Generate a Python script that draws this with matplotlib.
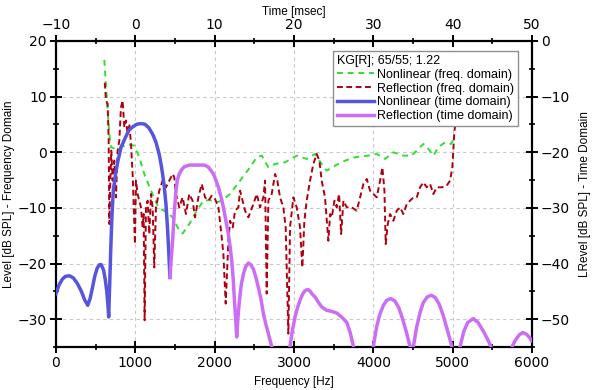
import numpy as np
import matplotlib
matplotlib.use("Agg")
import matplotlib.pyplot as plt
from matplotlib.ticker import MultipleLocator
from matplotlib.lines import Line2D

# frequency domain (Hz, dB SPL)
nl_freq = [609, 651, 672, 693, 756, 819, 903, 987, 1050, 1113, 1197, 1281, 1323, 1400, 1470,
           1554, 1596, 1680, 1774, 1858, 1942, 2026, 2089, 2194, 2320, 2446, 2530, 2593, 2677,
           2761, 2887, 3034, 3160, 3265, 3349, 3412, 3518, 3644, 3770, 3938, 4043, 4148, 4253,
           4358, 4484, 4547, 4631, 4694, 4757, 4820, 4904, 4980, 5022]
nl_level = [16.6, 7.5, 3.3, 0.9, 0.6, 0.9, 1.4, 1.2, -0.9, -3.9, -6.9, -9.6, -10.2, -10.8, -11.7,
            -14.1, -14.6, -12.9, -10.5, -8.7, -8.6, -9.0, -8.7, -7.5, -5.1, -2.7, -0.9, -0.6, -2.7,
            -2.1, -1.8, -0.6, -1.2, -0.3, -2.1, -3.3, -2.4, -1.5, -0.9, -0.6, -0.3, -1.2, 0.0,
            -0.6, -0.6, 0.3, 1.5, 0.6, -0.6, 0.9, 1.8, 1.5, 2.7]

refl_freq = [615, 630, 651, 664, 672, 685, 697, 714, 735, 756, 777, 798, 819, 840, 861, 882, 903,
             924, 945, 966, 995, 1008, 1029, 1071, 1092, 1105, 1117, 1134, 1155, 1176, 1197, 1218,
             1239, 1260, 1302, 1344, 1386, 1428, 1470, 1491, 1512, 1554, 1596, 1638, 1680, 1722,
             1753, 1795, 1837, 1879, 1921, 1963, 2005, 2047, 2089, 2110, 2139, 2173, 2194, 2228,
             2257, 2299, 2320, 2341, 2383, 2425, 2488, 2530, 2572, 2614, 2635, 2656, 2677, 2719,
             2761, 2790, 2824, 2866, 2895, 2929, 2950, 2992, 3034, 3076, 3105, 3131, 3160, 3202,
             3244, 3286, 3320, 3349, 3391, 3433, 3455, 3476, 3510, 3539, 3568, 3594, 3623, 3665,
             3728, 3791, 3833, 3875, 3917, 3959, 4001, 4043, 4085, 4114, 4140, 4156, 4182, 4211,
             4253, 4295, 4337, 4379, 4421, 4463, 4505, 4547, 4589, 4631, 4673, 4715, 4757, 4799,
             4862, 4925, 4967, 4996, 5022, 5038]
refl_level = [12.5, 9.3, 8.7, 2.1, -12.9, -5.1, 0.3, -5.1, -1.5, -8.1, 0.3, 2.1, 8.1, 9.3, 4.5,
              5.7, 3.3, 5.1, 1.5, -3.9, -16.5, -5.1, -7.5, -9.9, -13.5, -11.1, -30.2, -9.9, -8.7,
              -14.7, -7.5, -9.9, -20.7, -9.9, -6.9, -5.1, -6.3, -5.1, -3.9, -4.5, -7.5, -9.9, -8.1,
              -11.1, -7.5, -8.7, -11.7, -8.1, -5.7, -8.1, -8.7, -7.8, -8.4, -9.9, -15.3, -18.3,
              -27.2, -15.9, -12.3, -13.5, -10.5, -9.9, -6.9, -8.1, -10.5, -11.7, -9.3, -7.5, -9.9,
              -8.1, -5.1, -25.4, -8.7, -7.5, -3.9, -5.1, -8.1, -9.9, -13.5, -32.6, -13.5, -8.1,
              -9.9, -13.5, -20.7, -12.3, -8.7, -5.1, -2.1, -0.3, -1.5, -5.1, -8.1, -15.9, -11.1,
              -11.7, -8.7, -9.9, -7.5, -14.7, -8.7, -9.9, -9.9, -10.5, -8.1, -5.7, -4.8, -6.9,
              -7.5, -8.1, -5.1, -2.7, -6.9, -16.5, -12.9, -11.1, -12.3, -10.5, -9.9, -11.1, -9.3,
              -8.7, -8.1, -8.1, -6.3, -5.4, -6.3, -5.7, -7.5, -6.3, -6.3, -6.0, -5.1, -2.7, 3.9,
              5.1]

# time domain (msec, dB SPL)
nl_time = [-10.0, -9.6, -9.2, -8.8, -8.3, -7.8, -7.3, -6.8, -6.4, -6.0, -5.7, -5.4, -5.1, -4.8,
           -4.5, -4.3, -4.0, -3.8, -3.6, -3.45, -3.36, -3.25, -3.1, -2.95, -2.78, -2.5, -2.2,
           -1.8, -1.3, -0.8, -0.3, 0.2, 0.7, 1.2, 1.7, 2.2, 2.6, 3.0, 3.3, 3.6, 3.86, 4.05,
           4.2, 4.36]
nl_tlevel = [-45.4, -43.8, -42.8, -42.3, -42.2, -42.6, -43.6, -45.0, -46.5, -47.5, -46.3, -44.3,
             -42.2, -40.8, -40.2, -40.2, -41.2, -42.8, -45.0, -47.5, -49.6, -44.5, -37.5, -31.5,
             -26.9, -24.0, -21.6, -19.1, -17.5, -16.0, -15.4, -14.95, -14.85, -14.95, -15.6,
             -16.8, -18.2, -20.3, -22.6, -25.6, -29.3, -33.5, -37.5, -42.5]

refl_time = [4.36, 4.5, 4.7, 4.9, 5.12, 5.3, 5.54, 5.85, 6.17, 6.8, 7.64, 8.58, 8.9, 9.21, 9.5,
             9.84, 10.15, 10.47, 10.8, 11.1, 11.4, 11.73, 11.95, 12.15, 12.35, 12.49, 12.65,
             12.78, 12.92, 13.12, 13.35, 13.62, 13.9, 14.25, 14.55, 14.88, 15.2, 15.51, 15.85,
             16.14, 16.45, 16.77, 17.19, 18.4,
             19.5, 19.8, 20.13, 20.45, 20.76, 21.05, 21.3, 21.55, 21.81, 22.05, 22.3, 22.65, 23.0,
             23.49, 24.12, 24.76, 25.39, 26.0, 26.66, 27.1, 27.49, 28.8,
             30.0, 30.4, 30.8, 31.27, 31.7, 32.2, 32.7, 33.2, 33.7, 34.2, 34.63, 34.84,
             35.05, 35.45, 35.89, 36.3, 36.8, 37.3, 37.8, 38.3, 38.8, 39.3, 39.9, 40.4,
             40.94, 41.4, 41.9, 42.6, 43.2, 43.88, 44.4, 44.82, 46.3,
             47.5, 47.9, 48.4, 48.85, 49.3, 49.7, 49.95]
refl_tlevel = [-42.5, -39.5, -35.9, -31.0, -26.9, -25.0, -23.9, -23.1, -22.6, -22.3, -22.3, -22.3,
               -22.4, -22.7, -23.2, -23.9, -25.0, -26.3, -28.0, -29.9, -32.2, -34.7, -37.0, -39.5,
               -43.0, -46.6, -50.0, -53.2, -50.0, -46.6, -43.8, -41.9, -40.6, -39.9, -40.2, -41.0,
               -42.5, -44.3, -46.5, -49.0, -50.9, -52.6, -54.9, -64.0,
               -54.9, -52.0, -49.6, -47.9, -46.6, -45.6, -45.0, -44.75, -44.7, -45.0, -45.5,
               -46.0, -46.8, -47.8, -48.4, -48.6, -48.9, -49.6, -50.6, -52.5, -54.9, -66.0,
               -54.9, -51.5, -49.2, -47.5, -46.6, -46.3, -46.7, -47.9, -50.0, -52.5, -54.9, -57.0,
               -54.9, -51.5, -48.8, -47.0, -46.0, -45.7, -46.1, -47.3, -49.3, -51.8, -54.9, -58.0,
               -54.9, -52.2, -50.6, -49.9, -50.6, -52.2, -53.6, -54.9, -65.0,
               -54.9, -53.8, -52.8, -52.4, -52.7, -53.3, -53.9]

legend_title = "KG[R]; 65/55; 1.22"
labels = ["Nonlinear (freq. domain)", "Reflection (freq. domain)",
          "Nonlinear (time domain)", "Reflection (time domain)"]

c_green = "#33dd33"
c_red = "#b00010"
c_blue = "#5555dd"
c_violet = "#cc6ef5"

lab_font = "Liberation Sans"

fig = plt.figure(figsize=(6, 3.9), dpi=100)
pos = [56 / 600, 1 - 347 / 390, 476 / 600, 306 / 390]
ax = fig.add_axes(pos)
ax2 = fig.add_axes(pos, frameon=False)

ax.plot(nl_freq, nl_level, color=c_green, lw=1.4, ls=(0, (3, 2.5)))
ax.plot(refl_freq, refl_level, color=c_red, lw=1.4, ls=(0, (3, 1.8)))
ax.set_xlim(0, 6000)
ax.set_ylim(-35, 20)
ax.xaxis.set_major_locator(MultipleLocator(1000))
ax.xaxis.set_minor_locator(MultipleLocator(500))
ax.yaxis.set_major_locator(MultipleLocator(10))
ax.yaxis.set_minor_locator(MultipleLocator(5))
ax.grid(True, which="major", color="#c8c8c8", ls=(0, (3, 3)), lw=0.8)
ax.set_axisbelow(True)

ax2.plot(nl_time, nl_tlevel, color=c_blue, lw=2.5, solid_joinstyle="round")
ax2.plot(refl_time, refl_tlevel, color=c_violet, lw=2.5, solid_joinstyle="round")
ax2.set_xlim(-10, 50)
ax2.set_ylim(-55, 0)
ax2.xaxis.tick_top()
ax2.yaxis.tick_right()
ax2.xaxis.set_label_position("top")
ax2.yaxis.set_label_position("right")
ax2.xaxis.set_major_locator(MultipleLocator(10))
ax2.xaxis.set_minor_locator(MultipleLocator(5))
ax2.yaxis.set_major_locator(MultipleLocator(10))
ax2.yaxis.set_minor_locator(MultipleLocator(5))

for sp in ax.spines.values():
    sp.set_linewidth(1.6)
for a in (ax, ax2):
    a.tick_params(which="major", direction="inout", length=9, width=1.4, labelsize=10, pad=2)
    a.tick_params(which="minor", direction="inout", length=5, width=1.2)

ax.set_xlabel("Frequency [Hz]", fontfamily=lab_font, fontsize=8.5, labelpad=4)
ax.set_ylabel("Level [dB SPL] - Frequency Domain", fontfamily=lab_font, fontsize=8.5, labelpad=2)
ax2.set_xlabel("Time [msec]", fontfamily=lab_font, fontsize=8.5, labelpad=2)
ax2.set_ylabel("LRevel [dB SPL] - Time Domain", fontfamily=lab_font, fontsize=8.5, labelpad=6)

handles = [Line2D([], [], color=c_green, lw=1.4, ls=(0, (3, 2.5))),
           Line2D([], [], color=c_red, lw=1.4, ls=(0, (3, 1.8))),
           Line2D([], [], color=c_blue, lw=2.5),
           Line2D([], [], color=c_violet, lw=2.5)]
leg = ax2.legend(handles, labels, title=legend_title, loc="upper left",
                 bbox_to_anchor=(0.582, 0.967), alignment="left",
                 prop={"family": lab_font, "size": 9},
                 title_fontproperties={"family": lab_font, "size": 9},
                 frameon=True, fancybox=False, edgecolor="#909090", framealpha=1,
                 borderpad=0.3, labelspacing=0.15, handlelength=3.0, handletextpad=0.2,
                 borderaxespad=0)
leg.get_frame().set_linewidth(1.0)

fig.savefig("out.png", dpi=100)
